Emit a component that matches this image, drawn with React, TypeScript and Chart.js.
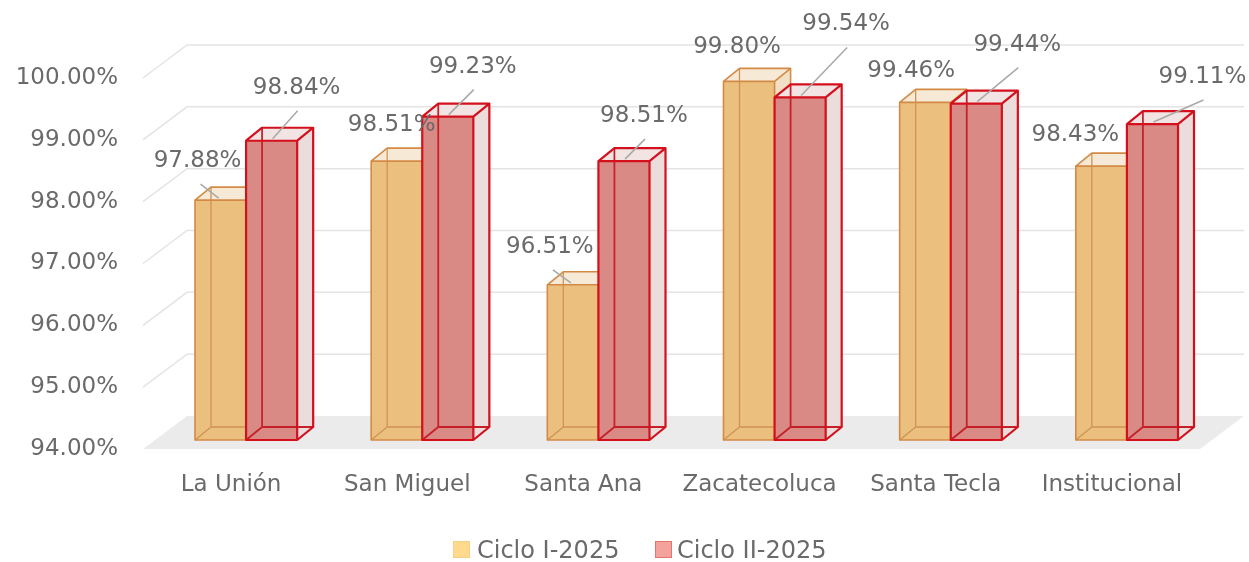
import React, { useEffect, useRef } from "react";
import { Chart, registerables } from "chart.js";

Chart.register(...registerables);

// ---------- data ----------
const categories = ["La Unión", "San Miguel", "Santa Ana", "Zacatecoluca", "Santa Tecla", "Institucional"];
const cicloI = [97.88, 98.51, 96.51, 99.8, 99.46, 98.43];
const cicloII = [98.84, 99.23, 98.51, 99.54, 99.44, 99.11];
const seriesNames = ["Ciclo I-2025", "Ciclo II-2025"];
const yMin = 94;
const yMax = 100;
const yStep = 1;

// ---------- styling (label placement relative to each bar's top) ----------
const labelOffsetsI = [[-23, -39], [-5, -36], [-23, -38], [-12, -34], [-14, -31], [-26, -31]];
const labelOffsetsII = [[25, -53], [25, -50], [20, -45], [46, -73], [41, -59], [50, -47]];

const FONT = "'DejaVu Sans', 'Liberation Sans', sans-serif";
const TEXT = "#6a6a6a";
const WALL_DX = 44, WALL_DY = -33;
const BAR_OX = 15, BAR_OY = -9;
const BAR_DX = 16, BAR_DY = -13;

const barStyles = [
  { front: "#EBBF7E", top: "#F6E9D6", side: "#F2E0C6", edge: "#D38A45", inner: "#CF9352", lw: 1.6 },
  { front: "#D98A84", top: "#F3E4E4", side: "#ECDDDD", edge: "#D4101C", inner: "#C5202A", lw: 2.2 },
];
const legendColors = [
  { fill: "#FFD98C", border: "#F5CF85" },
  { fill: "#F4A29C", border: "#E0766F" },
];

function drawBar(ctx: CanvasRenderingContext2D, x0: number, x1: number, yT: number, yB: number, s: any) {
  const dx = BAR_DX, dy = BAR_DY;
  // side
  ctx.fillStyle = s.side;
  ctx.beginPath();
  ctx.moveTo(x1, yT); ctx.lineTo(x1 + dx, yT + dy); ctx.lineTo(x1 + dx, yB + dy); ctx.lineTo(x1, yB); ctx.closePath();
  ctx.fill();
  // top
  ctx.fillStyle = s.top;
  ctx.beginPath();
  ctx.moveTo(x0, yT); ctx.lineTo(x1, yT); ctx.lineTo(x1 + dx, yT + dy); ctx.lineTo(x0 + dx, yT + dy); ctx.closePath();
  ctx.fill();
  // front
  ctx.fillStyle = s.front;
  ctx.fillRect(x0, yT, x1 - x0, yB - yT);

  // hidden (back) edges seen through
  ctx.strokeStyle = s.inner;
  ctx.lineWidth = s.lw * 0.8;
  ctx.beginPath();
  ctx.moveTo(x0 + dx, yT + dy); ctx.lineTo(x0 + dx, yB + dy);
  ctx.lineTo(x1 + dx, yB + dy);
  ctx.moveTo(x0, yB); ctx.lineTo(x0 + dx, yB + dy);
  ctx.stroke();

  // visible edges
  ctx.strokeStyle = s.edge;
  ctx.lineWidth = s.lw;
  ctx.lineJoin = "round";
  ctx.beginPath();
  ctx.rect(x0, yT, x1 - x0, yB - yT);
  ctx.moveTo(x0, yT); ctx.lineTo(x0 + dx, yT + dy); ctx.lineTo(x1 + dx, yT + dy); ctx.lineTo(x1, yT);
  ctx.moveTo(x1 + dx, yT + dy); ctx.lineTo(x1 + dx, yB + dy); ctx.lineTo(x1, yB);
  ctx.stroke();
}

const threeD = {
  id: "threeD",
  beforeDatasetsDraw(chart: any) {
    const { ctx, chartArea: a } = chart;
    const y = chart.scales.y;
    ctx.save();
    const yb = y.getPixelForValue(y.min);
    // floor
    ctx.fillStyle = "#EBEBEB";
    ctx.beginPath();
    ctx.moveTo(a.left, yb);
    ctx.lineTo(a.right, yb);
    ctx.lineTo(a.right + WALL_DX, yb + WALL_DY);
    ctx.lineTo(a.left + WALL_DX, yb + WALL_DY);
    ctx.closePath();
    ctx.fill();
    // back-wall gridlines
    ctx.strokeStyle = "#E4E4E4";
    ctx.lineWidth = 1.5;
    y.ticks.forEach((t: any) => {
      if (t.value === y.min) return;
      const py = y.getPixelForValue(t.value);
      ctx.beginPath();
      ctx.moveTo(a.left, py);
      ctx.lineTo(a.left + WALL_DX, py + WALL_DY);
      ctx.lineTo(a.right + WALL_DX, py + WALL_DY);
      ctx.stroke();
    });

    const n = chart.data.labels.length;
    const labels: any[] = [];
    for (let i = 0; i < n; i++) {
      for (let d = 0; d < chart.data.datasets.length; d++) {
        const el = chart.getDatasetMeta(d).data[i];
        if (!el) continue;
        const p = el.getProps(["x", "y", "width"], true);
        const x0 = p.x - p.width / 2 + BAR_OX;
        const x1 = p.x + p.width / 2 + BAR_OX;
        const yT = p.y + BAR_OY;
        const yB = yb + BAR_OY;
        drawBar(ctx, x0, x1, yT, yB, barStyles[d]);
        const off = (d === 0 ? labelOffsetsI : labelOffsetsII)[i];
        const cx = (x0 + x1) / 2;
        labels.push({
          text: chart.data.datasets[d].data[i].toFixed(2) + "%",
          lx: cx + off[0],
          ly: yT + off[1],
          cx,
          yT,
          d,
          leader: off[1] <= -38,
        });
      }
    }
    // leaders
    ctx.strokeStyle = "#A8A8A8";
    ctx.lineWidth = 1.5;
    labels.forEach((l) => {
      if (!l.leader) return;
      ctx.beginPath();
      ctx.moveTo(l.lx + (l.d === 0 ? 3 : 1), l.ly + 23);
      ctx.lineTo(l.cx + (l.d === 0 ? -2 : 1), l.yT - 2);
      ctx.stroke();
    });
    // labels
    ctx.fillStyle = TEXT;
    ctx.font = `23px ${FONT}`;
    ctx.textAlign = "center";
    ctx.textBaseline = "middle";
    labels.forEach((l) => ctx.fillText(l.text, l.lx, l.ly));
    ctx.restore();
    return false;
  },
};

export default function App() {
  const ref = useRef<HTMLCanvasElement | null>(null);
  useEffect(() => {
    if (!ref.current) return;
    const chart = new Chart(ref.current, {
      type: "bar",
      data: {
        labels: categories,
        datasets: [
          { label: seriesNames[0], data: cicloI, backgroundColor: legendColors[0].fill, categoryPercentage: 0.58, barPercentage: 1 },
          { label: seriesNames[1], data: cicloII, backgroundColor: legendColors[1].fill, categoryPercentage: 0.58, barPercentage: 1 },
        ],
      },
      options: {
        responsive: false,
        devicePixelRatio: 1,
        animation: false,
        layout: { padding: { left: 0, right: 49, top: 78, bottom: 0 } },
        plugins: { legend: { display: false }, tooltip: { enabled: false } },
        scales: {
          x: {
            grid: { display: false, drawTicks: false },
            border: { display: false },
            ticks: { color: TEXT, font: { family: FONT, size: 23 }, padding: 22, maxRotation: 0, autoSkip: false },
            afterFit: (s: any) => { s.height = 113; },
          },
          y: {
            min: yMin,
            max: yMax,
            grid: { display: false, drawTicks: false },
            border: { display: false },
            ticks: {
              stepSize: yStep,
              color: TEXT,
              font: { family: FONT, size: 23 },
              padding: 25,
              callback: (v: any) => Number(v).toFixed(2) + "%",
            },
            afterFit: (s: any) => { s.width = 143; },
          },
        },
      },
      plugins: [threeD],
    });
    return () => chart.destroy();
  }, []);

  const legendText: React.CSSProperties = {
    position: "absolute",
    top: 535,
    height: 30,
    lineHeight: "30px",
    fontFamily: FONT,
    fontSize: 24,
    color: TEXT,
    whiteSpace: "nowrap",
  };
  const box = (c: { fill: string; border: string }, left: number): React.CSSProperties => ({
    position: "absolute",
    left,
    top: 541,
    width: 17,
    height: 17,
    boxSizing: "border-box",
    background: c.fill,
    border: `1px solid ${c.border}`,
  });

  return (
    <div style={{ position: "absolute", left: 0, top: 0, width: 1249, height: 562, background: "#fff", overflow: "hidden" }}>
      <canvas ref={ref} width={1249} height={562} style={{ position: "absolute", left: 0, top: 0, width: 1249, height: 562 }} />
      <div style={box(legendColors[0], 453)} />
      <div style={{ ...legendText, left: 477 }}>{seriesNames[0]}</div>
      <div style={box(legendColors[1], 655)} />
      <div style={{ ...legendText, left: 677 }}>{seriesNames[1]}</div>
    </div>
  );
}
